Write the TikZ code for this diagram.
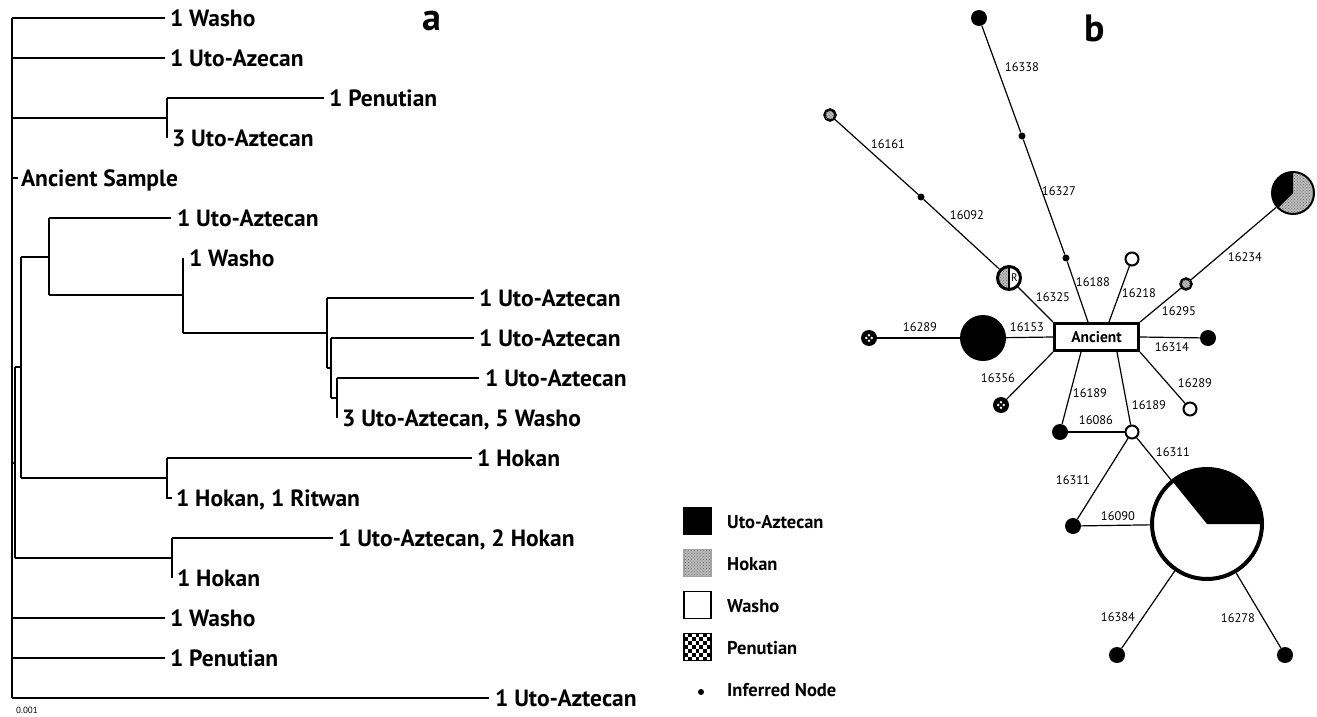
\documentclass[tikz,border=0pt]{standalone}
\usepackage{fontspec}
\setmainfont{PT Sans}
\usetikzlibrary{patterns}
\tikzset{
 tl/.style={line width=1.8pt},
 leaf/.style={anchor=west, inner sep=0pt, outer sep=0pt, font=\fontsize{23.5}{25}\selectfont\bfseries, text height=16.4pt, text depth=0pt},
 num/.style={inner sep=0pt, font=\fontsize{12.5}{14}\selectfont},
 edge/.style={line width=1.2pt},
 blk/.style={circle, fill=black, inner sep=0pt, minimum size=16pt},
 wht/.style={circle, draw, line width=2pt, fill=white, inner sep=0pt, minimum size=13pt},
 hok/.style={circle, draw, line width=2.5pt, fill=gray!55, inner sep=0pt, minimum size=11pt, postaction={pattern=crosshatch dots, pattern color=black!55}},
 pen/.style={circle, fill=black, inner sep=0pt, minimum size=16pt, path picture={\foreach \a in {0,90,180,270} \fill[white] ([shift={(\a:2.7pt)}]path picture bounding box.center) circle[radius=1.4pt];}},
 inf/.style={circle, fill=black, inner sep=0pt, minimum size=7pt},
 anc/.style={rectangle, draw, line width=3pt, fill=white, minimum width=84pt, minimum height=27pt, inner sep=0pt, font=\fontsize{15.5}{17}\selectfont\bfseries},
 ghost/.style={circle, inner sep=0pt},
 legtxt/.style={anchor=west, inner sep=0pt, font=\fontsize{18.5}{20}\selectfont\bfseries, text height=13pt, text depth=0pt},
 legbox/.style={rectangle, draw, line width=1.2pt, inner sep=0pt, minimum size=27pt},
 panel/.style={font=\fontsize{38}{40}\selectfont\bfseries, inner sep=0pt},
}
\begin{document}
\begin{tikzpicture}[x=1pt,y=-1pt]
\useasboundingbox (0,0) rectangle (1317,717);

% ---------------- panel a : tree ----------------
\node[panel] (pa) at (432,21) {a};
\node[leaf] (l0) at (170,18) {1 Washo};
\node[leaf] (l1) at (170,58) {1 Uto-Azecan};
\node[leaf] (l2) at (329,98) {1 Penutian};
\node[leaf] (l3) at (172,138) {3 Uto-Aztecan};
\node[leaf] (l4) at (21,178) {Ancient Sample};
\node[leaf] (l5) at (177,218) {1 Uto-Aztecan};
\node[leaf] (l6) at (189,258) {1 Washo};
\node[leaf] (l7) at (479,298) {1 Uto-Aztecan};
\node[leaf] (l8) at (479,338) {1 Uto-Aztecan};
\node[leaf] (l9) at (485,378) {1 Uto-Aztecan};
\node[leaf] (l10) at (342,418) {3 Uto-Aztecan, 5 Washo};
\node[leaf] (l11) at (477,458) {1 Hokan};
\node[leaf] (l12) at (176,498) {1 Hokan, 1 Ritwan};
\node[leaf] (l13) at (338,538) {1 Uto-Aztecan, 2 Hokan};
\node[leaf] (l14) at (177,578) {1 Hokan};
\node[leaf] (l15) at (170,618) {1 Washo};
\node[leaf] (l16) at (170,658) {1 Penutian};
\node[leaf] (l17) at (495,698) {1 Uto-Aztecan};
\node[inner sep=0pt, font=\fontsize{9}{10}\selectfont] (scale) at (27,710) {0.001};

\coordinate (rt) at (12,18);
\coordinate (rb) at (12,698);
\coordinate (P) at (167,118);
\coordinate (X) at (15,463);
\coordinate (Y) at (21,367);
\coordinate (A) at (49,257);
\coordinate (B) at (183,295);
\coordinate (C) at (327,333);
\coordinate (D) at (331,368);
\coordinate (E) at (337,398);
\coordinate (H) at (167,478);
\coordinate (U) at (172,558);

\draw[tl] (rt) -- (rb);
\draw[tl] (rt) -- ([xshift=-5pt]l0.west);
\draw[tl] (rt |- l1) -- ([xshift=-5pt]l1.west);
\draw[tl] (rt |- P) -- (P);
\draw[tl] (P |- l2) -- (P |- l3);
\draw[tl] (P |- l2) -- ([xshift=-5pt]l2.west);
\draw[tl] (rt |- l4) -- ([xshift=-3pt]l4.west);
\draw[tl] (rt |- l15) -- ([xshift=-5pt]l15.west);
\draw[tl] (rt |- l16) -- ([xshift=-5pt]l16.west);
\draw[tl] (rt |- l17) -- ([xshift=-6pt]l17.west);
% inner clade
\draw[tl] (rt |- X) -- (X);
\draw[tl] (X |- Y) -- (X |- U);
\draw[tl] (X |- Y) -- (Y);
\draw[tl] (Y |- A) -- (Y |- H);
\draw[tl] (Y |- A) -- (A);
\draw[tl] (A |- l5) -- (A |- B);
\draw[tl] (A |- l5) -- ([xshift=-6pt]l5.west);
\draw[tl] (A |- B) -- (B);
\draw[tl] (B |- l6) -- (B |- C);
\draw[tl] (B |- C) -- (C);
\draw[tl] (C |- l7) -- (C |- D);
\draw[tl] (C |- l7) -- ([xshift=-5pt]l7.west);
\draw[tl] (C |- D) -- (D);
\draw[tl] (D |- l8) -- (D |- E);
\draw[tl] (D |- l8) -- ([xshift=-5pt]l8.west);
\draw[tl] (D |- E) -- (E);
\draw[tl] (E |- l9) -- (E |- l10);
\draw[tl] (E |- l9) -- ([xshift=-6pt]l9.west);
\draw[tl] (Y |- H) -- (H);
\draw[tl] (H |- l11) -- (H |- l12) -- ([xshift=-4pt]l12.west);
\draw[tl] (H |- l11) -- ([xshift=-5pt]l11.west);
\draw[tl] (X |- U) -- (U);
\draw[tl] (U |- l13) -- (U |- l14);
\draw[tl] (U |- l13) -- ([xshift=-5pt]l13.west);

% ---------------- panel b : network ----------------
\node[panel] (pbl) at (1095,28) {b};

\node[blk] (ntop) at (979,18) {};
\node[inf] (i1) at (1022,136) {};
\node[inf] (i2) at (1066,258) {};
\node[hok] (h1) at (830,115) {};
\node[inf] (i3) at (921,197) {};
\node[ghost, minimum size=26pt] (rc) at (1009,278) {};
\node[anc] (anc) at (1096.5,337) {Ancient};
\node[wht] (w1) at (1132,259) {};
\node[hok] (h2) at (1186,284) {};
\node[ghost, minimum size=44pt] (ps) at (1293,193) {};
\node[pen] (p1) at (869,338) {};
\node[blk, minimum size=46pt] (bb) at (983,338) {};
\node[blk] (b1) at (1208,338) {};
\node[pen] (p2) at (1001,405) {};
\node[wht] (w2) at (1190,409) {};
\node[blk] (b2) at (1060,432) {};
\node[wht] (w3) at (1132,432) {};
\node[blk] (b3) at (1073,526) {};
\node[ghost, minimum size=114pt] (pb) at (1207,524) {};
\node[blk] (b4) at (1117,655) {};
\node[blk] (b5) at (1285,655) {};

\draw[edge] (ntop) -- (i1);
\draw[edge] (i1) -- (i2);
\draw[edge] (i2) -- ([xshift=35pt]anc.north west);
\draw[edge] (h1) -- (i3);
\draw[edge] (i3) -- (rc);
\draw[edge] (rc) -- (anc.north west);
\draw[edge] (w1) -- ([xshift=56pt]anc.north west);
\draw[edge] (h2) -- (anc.north east);
\draw[edge] (ps) -- (h2);
\draw[edge] (p1) -- (bb);
\draw[edge] (bb) -- (anc.west);
\draw[edge] (anc.east) -- (b1);
\draw[edge] (anc.south west) -- (p2);
\draw[edge] (anc.south east) -- (w2);
\draw[edge] ([xshift=28pt]anc.south west) -- (b2);
\draw[edge] ([xshift=64pt]anc.south west) -- (w3);
\draw[edge] (b2) -- (w3);
\draw[edge] (w3) -- (b3);
\draw[edge] (w3) -- (pb);
\draw[edge] (b3) -- (pb);
\draw[edge] (pb) -- (b4);
\draw[edge] (pb) -- (b5);

% R circle (half Hokan, half R)
\fill[gray!55] (rc.center) ++(-90:11.5) arc[start angle=-90, end angle=-270, radius=11.5] -- cycle;
\fill[pattern=crosshatch dots, pattern color=black!55] (rc.center) ++(-90:11.5) arc[start angle=-90, end angle=-270, radius=11.5] -- cycle;
\fill[white] (rc.center) ++(-90:11.5) arc[start angle=-90, end angle=90, radius=11.5] -- cycle;
\draw[line width=1.6pt] (rc.center) ++(0,-11.5) -- ++(0,23);
\draw[line width=3pt] (rc.center) circle[radius=11.5];
\node[inner sep=0pt, font=\fontsize{11}{12}\selectfont] (rlab) at ([xshift=5.5pt]rc.center) {R};

% small pie (Hokan / Uto-Aztecan)
\fill[gray!55] (ps.center) circle[radius=21];
\fill[pattern=crosshatch dots, pattern color=black!55] (ps.center) circle[radius=21];
\fill[black] (ps.center) -- ++(-90:21) arc[start angle=-90, end angle=-225, radius=21] -- cycle;
\draw[line width=2pt] (ps.center) circle[radius=21];

% big pie (Uto-Aztecan / Washo)
\fill[white] (pb.center) circle[radius=55];
\fill[black] (pb.center) -- ++(0:55) arc[start angle=0, end angle=-129, radius=55] -- cycle;
\draw[line width=4pt] (pb.center) circle[radius=55];

% edge labels
\node[num] (t16338) at (1022,67) {16338};
\node[num] (t16327) at (1059,191) {16327};
\node[num] (t16161) at (888,144) {16161};
\node[num] (t16092) at (967,215) {16092};
\node[num] (t16188) at (1093,282) {16188};
\node[num] (t16218) at (1139,293) {16218};
\node[num] (t16325) at (1053,297) {16325};
\node[num] (t16234) at (1245,257) {16234};
\node[num] (t16295) at (1179,311) {16295};
\node[num] (t16289a) at (920,327) {16289};
\node[num] (t16153) at (1027,327) {16153};
\node[num] (t16314) at (1172,347) {16314};
\node[num] (t16356) at (998,378) {16356};
\node[num] (t16189a) at (1090,393) {16189};
\node[num] (t16189b) at (1149,405) {16189};
\node[num] (t16289b) at (1195,383) {16289};
\node[num] (t16086) at (1096,420) {16086};
\node[num] (t16311a) at (1173,452) {16311};
\node[num] (t16311b) at (1073,480) {16311};
\node[num] (t16090) at (1118,516) {16090};
\node[num] (t16384) at (1118,617) {16384};
\node[num] (t16278) at (1238,618) {16278};

% ---------------- legend ----------------
\node[legbox, fill=black] (kua) at (697.5,521) {};
\node[legbox, draw=gray!70, fill=gray!55, postaction={pattern=crosshatch dots, pattern color=black!55}] (kho) at (697.5,563) {};
\node[legbox, fill=white] (kwa) at (697.5,605) {};
\node[legbox] (kpe) at (697.5,647) {};
\foreach \i in {0,...,6} {
  \foreach \j in {0,...,6} {
    \ifodd\numexpr\i+\j\relax
      \fill[black] (684+3.86*\i, 633.5+3.86*\j) rectangle ++(3.86,3.86);
    \fi
  }
}
\node[inf, minimum size=6pt] (kin) at (701,692) {};
\node[legtxt] (tua) at (727,522) {Uto-Aztecan};
\node[legtxt] (tho) at (727,564) {Hokan};
\node[legtxt] (twa) at (727,606) {Washo};
\node[legtxt] (tpe) at (727,648) {Penutian};
\node[legtxt] (tin) at (727,690) {Inferred Node};
\end{tikzpicture}
\end{document}
